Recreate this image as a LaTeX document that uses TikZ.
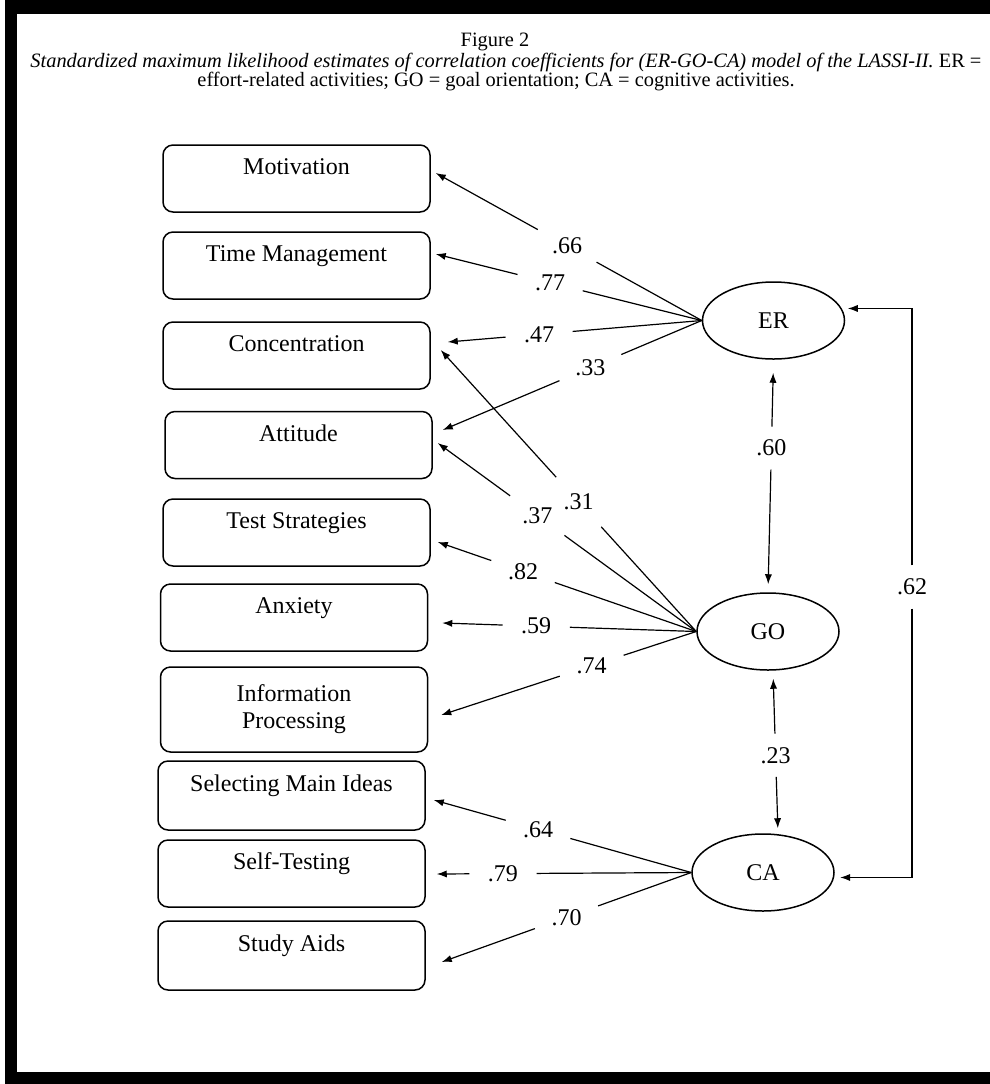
\documentclass[tikz,border=0pt]{standalone}
\usepackage{fontspec}
\setmainfont{Liberation Serif}
\usetikzlibrary{calc,arrows.meta,shapes.geometric}
\begin{document}
\begin{tikzpicture}[x=.5pt,y=-.5pt,>={Latex[length=5pt,width=3.6pt]},line width=.6pt,
    font=\fontsize{12}{13.5}\selectfont,
    box/.style={draw,line width=.75pt,rounded corners=5pt,minimum width=133.5pt,minimum height=33.5pt,align=center,text height=9pt,text depth=13pt},
    lat/.style={draw,line width=.75pt,ellipse,inner sep=0pt,minimum width=71pt,minimum height=38.5pt},
    coef/.style={circle,inner sep=0pt,minimum size=33pt},
    corr/.style={circle,inner sep=0pt,minimum size=21pt},
    captext/.style={font=\fontsize{10.2}{12}\selectfont,inner sep=1pt}]
\useasboundingbox (0,0) rectangle (990,1084);
% frame
\fill (5,0) rectangle (990,14);
\fill (5,0) rectangle (17,1084);
\fill (5,1072) rectangle (990,1084);
% caption
\node[captext] (fig) at (495,42) {Figure 2};
\node[captext] (cap1) at (506,62) {\textit{Standardized maximum likelihood estimates of correlation coefficients for (ER-GO-CA) model of the LASSI-II.} ER =};
\node[captext] (cap2) at (496,82) {effort-related activities; GO = goal orientation; CA = cognitive activities.};
% observed variables
\node[box] (mot) at (296.5,178.5) {Motivation};
\node[box] (tim) at (296.5,265.5) {Time Management};
\node[box] (con) at (296.5,355.5) {Concentration};
\node[box] (att) at (298.5,445) {Attitude};
\node[box] (tes) at (296.5,532.5) {Test Strategies};
\node[box] (anx) at (294,617.5) {Anxiety};
\node[box,minimum height=42.5pt,text height=,text depth=] (inf) at (294,709.5) {Information\\Processing};
\node[box,minimum height=34.5pt] (sel) at (291.5,795.5) {Selecting Main Ideas};
\node[box] (slf) at (291.5,873.5) {Self-Testing};
\node[box,minimum height=34.5pt] (stu) at (291.5,955.5) {Study Aids};
% factors
\node[lat] (er) at (773.5,320.5) {ER};
\node[lat] (go) at (768,631.5) {GO};
\node[lat] (ca) at (763,872.5) {CA};
% loadings
\foreach \src/\dst/\xs/\ys/\ps/\val/\id in {
    er/mot/5/-5.5/.506/.66/a, er/tim/5/-11.5/.57/.77/b, er/con/17/-13.5/.64/.47/c, er/att/10/-15/.43/.33/d,
    go/con/10/-5.5/.46/.31/e, go/att/5/-2/.615/.37/f, go/tes/7/9.5/.67/.82/g, go/anx/14/5.5/.63/.59/h,
    go/inf/13/5.5/.41/.74/i, ca/sel/8/4.5/.595/.64/j, ca/slf/11/.5/.74/.79/k, ca/stu/16/6.5/.5/.70/l}{
  \coordinate (t\id) at ([shift={(\xs,\ys)}]\dst.east);
  \node[coef] (\id) at ($(\src.west)!\ps!(t\id)$) {\val};
  \draw (\src.west) -- (\id);
  \draw[->] (\id) -- (t\id);
}
% correlations
\node[corr] (r1) at ($(er.south)!.38!(go.north)$) {.60};
\draw[->,shorten >=6.5pt] (r1) -- (er.south);
\draw[->,shorten >=4pt] (r1) -- (go.north);
\node[corr] (r2) at ($([xshift=2.5pt]go.south)!.52!([xshift=7.5pt]ca.north)$) {.23};
\draw[->,shorten >=4pt] (r2) -- ([xshift=2.5pt]go.south);
\draw[->,shorten >=2.5pt] (r2) -- ([xshift=7.5pt]ca.north);
\node[corr] (r3) at (912,587) {.62};
\draw[->,shorten >=3pt] (r3) |- (er.10);
\draw[->,shorten >=3pt] (r3) |- (ca.356);
\end{tikzpicture}
\end{document}
